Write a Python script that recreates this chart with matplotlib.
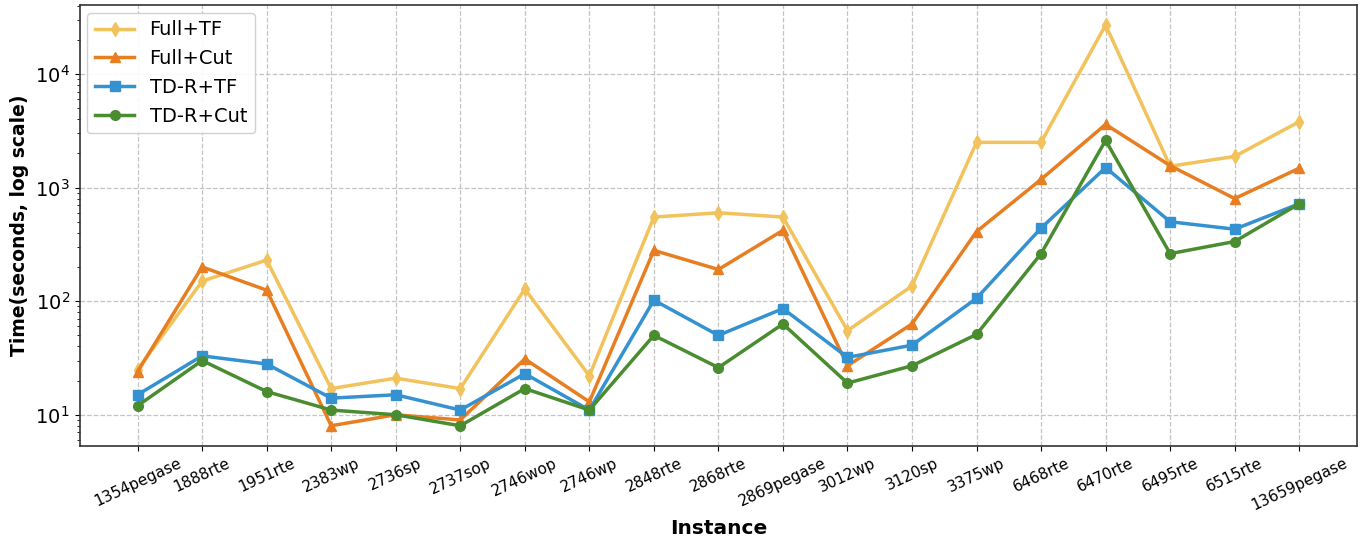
import matplotlib
matplotlib.use('Agg')
import matplotlib.pyplot as plt

instances = ['1354pegase', '1888rte', '1951rte', '2383wp', '2736sp', '2737sop', '2746wop',
             '2746wp', '2848rte', '2868rte', '2869pegase', '3012wp', '3120sp', '3375wp',
             '6468rte', '6470rte', '6495rte', '6515rte', '13659pegase']

full_tf = [25, 150, 230, 17, 21, 17, 128, 22, 550, 600, 550, 55, 136, 2500,
           2500, 27000, 1540, 1880, 3800]
full_cut = [24, 200, 125, 8, 10, 9, 31, 13, 280, 190, 420, 27, 63, 410,
            1180, 3600, 1560, 800, 1480]
tdr_tf = [15, 33, 28, 14, 15, 11, 23, 11, 102, 50, 86, 32, 41, 106,
          440, 1500, 500, 430, 720]
tdr_cut = [12, 30, 16, 11, 10, 8, 17, 11, 50, 26, 63, 19, 27, 51,
           262, 2600, 262, 335, 720]

series = [
    ('Full+TF', full_tf, '#f2c25c', 'd'),
    ('Full+Cut', full_cut, '#e87e22', '^'),
    ('TD-R+TF', tdr_tf, '#3592d0', 's'),
    ('TD-R+Cut', tdr_cut, '#4a8c30', 'o'),
]

fig, ax = plt.subplots(figsize=(13.71, 5.47), dpi=100)
x = list(range(len(instances)))
for name, vals, col, mk in series:
    ax.plot(x, vals, color=col, marker=mk, linewidth=2.5, markersize=7, label=name)

ax.set_yscale('log')
ax.set_xticks(x)
ax.set_xticklabels(instances, rotation=25, ha='center', fontsize=11)
ax.tick_params(axis='y', labelsize=14)
ax.set_xlabel('Instance', fontsize=14.5, fontweight='bold')
ax.set_ylabel('Time(seconds, log scale)', fontsize=13.5, fontweight='bold')
ax.grid(True, which='major', linestyle='--', color='#c4c4c4', linewidth=0.9)
for s in ax.spines.values():
    s.set_color('#333333')
    s.set_linewidth(1.2)
ax.legend(loc='upper left', fontsize=14, framealpha=0.9, borderaxespad=0.4)

plt.subplots_adjust(left=0.058, right=0.99, top=0.991, bottom=0.185)
plt.savefig('out.png', dpi=100)
